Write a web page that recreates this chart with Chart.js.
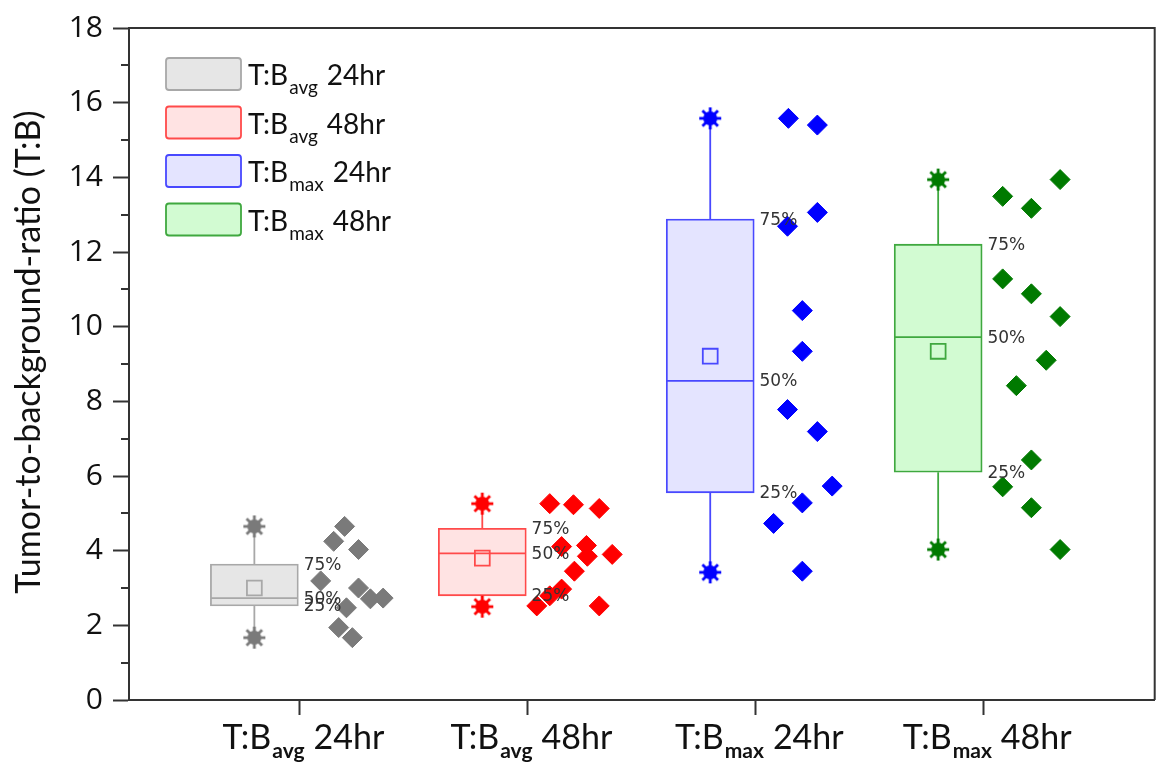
<!DOCTYPE html>
<html>
<head>
<meta charset="utf-8">
<script src="https://cdn.jsdelivr.net/npm/chart.js@4.4.0/dist/chart.umd.min.js"></script>
<style>
html, body { margin: 0; padding: 0; background: #fff; }
#wrap { width: 1167px; height: 769px; }
</style>
</head>
<body>
<div id="wrap"><canvas id="tbChart" width="1167" height="769"></canvas></div>
<script>
// grupos (T:B avg/max, 24hr/48hr)
const subLabels = ['avg', 'avg', 'max', 'max'];
const hourLabels = ['24hr', '48hr', '24hr', '48hr'];
const yTickValues = [0, 2, 4, 6, 8, 10, 12, 14, 16, 18];
const yTitle = 'Tumor-to-background-ratio (T:B)';

// estadisticas de cada caja
const minVals = [1.67, 2.50, 3.42, 4.03];
const q1Vals = [2.52, 2.79, 5.55, 6.10];
const medianVals = [2.73, 3.93, 8.55, 9.72];
const meanVals = [3.00, 3.80, 9.21, 9.34];
const q3Vals = [3.64, 4.60, 12.88, 12.21];
const maxVals = [4.65, 5.26, 15.58, 13.94];

// puntos individuales y su desplazamiento horizontal
const avg24Points = [4.65, 4.25, 4.03, 3.19, 3.00, 2.71, 2.73, 2.47, 1.94, 1.67];
const avg24Jitter = [0.196, 0.148, 0.257, 0.091, 0.257, 0.309, 0.365, 0.204, 0.170, 0.230];
const avg48Points = [5.26, 5.23, 5.13, 4.11, 4.14, 3.85, 3.90, 3.45, 2.97, 2.79, 2.52, 2.52];
const avg48Jitter = [0.096, 0.200, 0.313, 0.148, 0.257, 0.261, 0.370, 0.204, 0.148, 0.096, 0.039, 0.313];
const max24Points = [15.58, 15.40, 13.06, 12.69, 10.43, 9.34, 7.78, 7.19, 5.73, 5.28, 4.73, 3.45];
const max24Jitter = [0.143, 0.270, 0.270, 0.139, 0.204, 0.204, 0.139, 0.270, 0.335, 0.204, 0.078, 0.204];
const max48Points = [13.94, 13.49, 13.17, 11.28, 10.88, 10.27, 9.10, 8.42, 6.43, 5.71, 5.15, 4.03];
const max48Jitter = [0.335, 0.083, 0.209, 0.083, 0.209, 0.335, 0.274, 0.143, 0.209, 0.083, 0.209, 0.335];

const groupPoints = [avg24Points, avg48Points, max24Points, max48Points];
const groupJitter = [avg24Jitter, avg48Jitter, max24Jitter, max48Jitter];

const fillColors = ['#e6e6e6', '#ffe3e3', '#e4e4ff', '#d2fbd2'];
const lineColors = ['#a8a8a8', '#ff4a4a', '#4848ff', '#3fa83f'];
const markColors = ['#7a7a7a', '#ff0000', '#0000ff', '#007a00'];

const BOX_SHIFT = -0.2;
const BOX_HALF = 0.19;

function makeStar(color) {
    const c = document.createElement('canvas');
    c.width = 26;
    c.height = 26;
    const g = c.getContext('2d');
    g.strokeStyle = color;
    g.fillStyle = color;
    g.lineWidth = 2.8;
    for (let k = 0; k < 4; k++) {
        const a = k * Math.PI / 4;
        g.beginPath();
        g.moveTo(13 - 11 * Math.cos(a), 13 - 11 * Math.sin(a));
        g.lineTo(13 + 11 * Math.cos(a), 13 + 11 * Math.sin(a));
        g.stroke();
    }
    g.beginPath();
    g.arc(13, 13, 7, 0, Math.PI * 2);
    g.fill();
    return c;
}

const datasets = [];
for (let i = 0; i < 4; i++) {
    const cx = i + 1 + BOX_SHIFT;
    // puntos
    datasets.push({
        type: 'scatter',
        data: groupPoints[i].map((v, k) => ({ x: i + 1 + groupJitter[i][k], y: v })),
        pointStyle: 'rectRot',
        pointRadius: 10,
        backgroundColor: markColors[i],
        borderColor: markColors[i],
        borderWidth: 1,
        order: 0
    });
    // media
    datasets.push({
        type: 'scatter',
        data: [{ x: cx, y: meanVals[i] }],
        pointStyle: 'rect',
        pointRadius: 10.5,
        backgroundColor: 'rgba(0,0,0,0)',
        borderColor: lineColors[i],
        borderWidth: 1.8,
        order: 1
    });
    // min / max
    datasets.push({
        type: 'scatter',
        data: [{ x: cx, y: minVals[i] }, { x: cx, y: maxVals[i] }],
        pointStyle: makeStar(markColors[i]),
        pointRadius: 11,
        order: 1
    });
    // bigotes y mediana
    datasets.push({
        type: 'scatter',
        showLine: true,
        spanGaps: false,
        data: [
            { x: cx, y: maxVals[i] }, { x: cx, y: q3Vals[i] }, { x: cx, y: null },
            { x: cx, y: q1Vals[i] }, { x: cx, y: minVals[i] }, { x: cx, y: null },
            { x: cx - BOX_HALF, y: medianVals[i] }, { x: cx + BOX_HALF, y: medianVals[i] }
        ],
        borderColor: lineColors[i],
        borderWidth: 1.8,
        pointRadius: 0,
        order: 2
    });
    // caja
    datasets.push({
        type: 'bar',
        data: [{ x: cx, y: [q1Vals[i], q3Vals[i]] }],
        backgroundColor: fillColors[i],
        borderColor: lineColors[i],
        borderWidth: 1.8,
        borderSkipped: false,
        grouped: false,
        barThickness: 88,
        order: 3
    });
}

function drawSubLabel(ctx, x, y, sub, hour, mainFont, subFont, subDrop, gap, centered) {
    ctx.font = mainFont;
    const w1 = ctx.measureText('T:B').width;
    const w3 = ctx.measureText(hour).width;
    ctx.font = subFont;
    const w2 = ctx.measureText(sub).width;
    let sx = centered ? x - (w1 + w2 + gap + w3) / 2 : x;
    ctx.textAlign = 'left';
    ctx.textBaseline = 'alphabetic';
    ctx.font = mainFont;
    ctx.fillText('T:B', sx, y);
    ctx.font = subFont;
    ctx.fillText(sub, sx + w1 + 1, y + subDrop);
    ctx.font = mainFont;
    ctx.fillText(hour, sx + w1 + 1 + w2 + gap, y);
}

const extras = {
    id: 'extras',
    afterDatasetsDraw(chart) {
        const ctx = chart.ctx;
        const xs = chart.scales.x, ys = chart.scales.y;
        ctx.save();
        ctx.fillStyle = '#333';
        ctx.font = '17px "DejaVu Sans"';
        ctx.textAlign = 'left';
        ctx.textBaseline = 'middle';
        for (let i = 0; i < 4; i++) {
            const px = xs.getPixelForValue(i + 1 + BOX_SHIFT + BOX_HALF) + 6;
            ctx.fillText('75%', px, ys.getPixelForValue(q3Vals[i]) + 1);
            ctx.fillText('50%', px, ys.getPixelForValue(medianVals[i]) + 1);
            ctx.fillText('25%', px, ys.getPixelForValue(q1Vals[i]) + 1);
        }
        ctx.restore();
    },
    afterDraw(chart) {
        const ctx = chart.ctx;
        const a = chart.chartArea;
        const xs = chart.scales.x, ys = chart.scales.y;
        ctx.save();
        // marco superior y derecho
        ctx.strokeStyle = '#333';
        ctx.lineWidth = 2;
        ctx.beginPath();
        ctx.moveTo(a.left, a.top);
        ctx.lineTo(a.right, a.top);
        ctx.lineTo(a.right, a.bottom);
        ctx.stroke();
        // ticks menores
        ctx.beginPath();
        for (let v = 1; v < 18; v += 2) {
            const py = Math.round(ys.getPixelForValue(v));
            ctx.moveTo(a.left - 8, py);
            ctx.lineTo(a.left, py);
        }
        ctx.stroke();
        // etiquetas del eje x
        ctx.fillStyle = '#111';
        for (let i = 0; i < 4; i++) {
            const px = xs.getPixelForValue(i + 1);
            drawSubLabel(ctx, px + 3, 749, subLabels[i], hourLabels[i], '34px Lato', 'bold 21px Lato', 9, 9, true);
        }
        // leyenda
        for (let i = 0; i < 4; i++) {
            const top = 58 + i * 48.5;
            ctx.fillStyle = fillColors[i];
            ctx.strokeStyle = lineColors[i];
            ctx.lineWidth = 1.8;
            ctx.beginPath();
            ctx.roundRect(166, top, 75, 32, 3);
            ctx.fill();
            ctx.stroke();
            ctx.fillStyle = '#111';
            drawSubLabel(ctx, 248, top + 27, subLabels[i], hourLabels[i], '28px Lato', '19px Lato', 9, 9, false);
        }
        // titulo del eje y, ajustado a ~515 px de largo
        ctx.font = '30px Lato';
        const w = ctx.measureText(yTitle).width;
        const size = Math.min(34, 30 * 515 / w);
        ctx.font = size.toFixed(1) + 'px Lato';
        ctx.translate(29, 352);
        ctx.rotate(-Math.PI / 2);
        ctx.textAlign = 'center';
        ctx.textBaseline = 'middle';
        ctx.fillText(yTitle, 0, 0);
        ctx.restore();
    }
};

const chart = new Chart(document.getElementById('tbChart'), {
    type: 'scatter',
    data: { datasets: datasets },
    plugins: [extras],
    options: {
        responsive: false,
        animation: false,
        layout: { padding: { top: 23, right: 2, left: 0, bottom: 0 } },
        plugins: { legend: { display: false }, tooltip: { enabled: false } },
        scales: {
            x: {
                type: 'linear',
                min: 0.25,
                max: 4.75,
                offset: false,
                afterFit: s => { s.height = 69; },
                afterBuildTicks: s => { s.ticks = [1, 2, 3, 4].map(v => ({ value: v })); },
                ticks: { callback: () => '' },
                grid: { offset: false, drawOnChartArea: false, tickLength: 15, tickColor: '#333', tickWidth: 2 },
                border: { color: '#333', width: 2 }
            },
            y: {
                min: 0,
                max: 18,
                afterFit: s => { s.width = 129; },
                afterBuildTicks: s => {
                    const t = [];
                    for (let v = 0; v <= 18; v++) t.push({ value: v });
                    s.ticks = t;
                },
                ticks: {
                    autoSkip: false,
                    padding: 10,
                    color: '#111',
                    font: { family: 'Open Sans', size: 30 },
                    callback: v => yTickValues.includes(v) ? String(v) : ''
                },
                grid: {
                    offset: false,
                    drawOnChartArea: false,
                    tickLength: 16,
                    tickWidth: 2,
                    tickColor: c => (c.tick && c.tick.value % 2 === 0) ? '#333' : 'rgba(0,0,0,0)'
                },
                border: { color: '#333', width: 2 }
            }
        }
    }
});
</script>
</body>
</html>
